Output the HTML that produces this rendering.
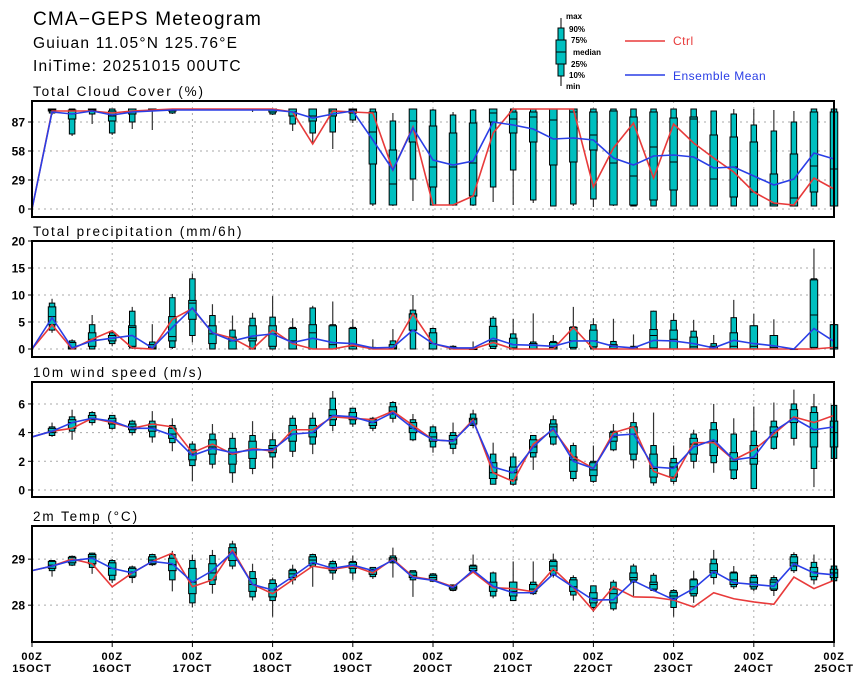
<!DOCTYPE html>
<html><head><meta charset="utf-8">
<style>
body{margin:0;background:#fff;}
svg{display:block;font-family:"Liberation Sans",sans-serif;}
</style></head>
<body>
<svg id="chart" width="860" height="680" xmlns="http://www.w3.org/2000/svg">
<rect width="860" height="680" fill="#fff"/>
<text x="33" y="25" font-size="19" letter-spacing="1.2">CMA−GEPS Meteogram</text>
<text x="33" y="48" font-size="15.5" letter-spacing="1.2">Guiuan 11.05°N 125.76°E</text>
<text x="33" y="71" font-size="15.5" letter-spacing="1.2">IniTime: 20251015 00UTC</text>
<g>
<line x1="561" y1="18" x2="561" y2="86" stroke="#000"/>
<rect x="558" y="28" width="6" height="48" fill="#00c0c0" stroke="#000"/>
<rect x="556" y="40" width="10" height="24" fill="#00c0c0" stroke="#000"/>
<line x1="556" y1="52" x2="566" y2="52" stroke="#000"/>
<text x="566" y="19" font-size="8" font-weight="bold">max</text>
<text x="569" y="32" font-size="8" font-weight="bold">90%</text>
<text x="571" y="43" font-size="8" font-weight="bold">75%</text>
<text x="573" y="55" font-size="8" font-weight="bold">median</text>
<text x="571" y="67" font-size="8" font-weight="bold">25%</text>
<text x="569" y="78" font-size="8" font-weight="bold">10%</text>
<text x="566" y="89" font-size="8" font-weight="bold">min</text>
</g>
<g><line x1="625" y1="41" x2="665" y2="41" stroke="#e83a3a" stroke-width="1.5"/><text x="673" y="45" font-size="12" fill="#e83a3a" letter-spacing="0.5">Ctrl</text></g>
<g><line x1="625" y1="75" x2="665" y2="75" stroke="#2a3ee6" stroke-width="1.5"/><text x="673" y="80" font-size="12" fill="#2a3ee6" letter-spacing="0.5">Ensemble Mean</text></g>
<g id="plots"></g>
</svg>
<script>
// ---- data ----
const cloudCtrl=[0,98,98,98,96,98,99,100,100,100,100,100,100,97,65,98,97,96,39,82,4,4,13,76,100,100,100,100,22,61,86,31,85,66,51,37,17,6,4,31,20];
const cloudMean=[0,97,95,98,94,97,98,99,99,99,99,99,99,97,91,95,98,69,39,81,49,44,48,87,84,80,70,71,69,51,44,53,54,52,41,42,33,24,30,56,50];
const cloudBox=[[94,96,98,99,100,100,100],[73,75,90,95,99,100,100],[85,95,98,99,100,100,100],[74,76,88,93,98,100,100],[80,87,95,98,100,100,100],[79,98,99,100,100,100,100],[95,96,98,99,100,100,100],[99,100,100,100,100,100,100],[99,100,100,100,100,100,100],[99,100,100,100,100,100,100],[97,99,100,100,100,100,100],[94,95,97,99,100,100,100],[78,85,93,97,100,100,100],[65,76,88,93,100,100,100],[60,77,93,98,100,100,100],[86,89,96,99,100,100,100],[3,5,45,77,97,100,100],[3,4,4,25,59,88,96],[8,30,67,88,100,100,100],[3,4,22,42,83,99,100],[3,4,4,42,76,94,97],[3,4,13,46,86,99,100],[7,22,87,96,100,100,100],[4,39,76,90,97,100,100],[6,9,67,92,97,100,100],[3,3,44,89,100,100,100],[3,5,47,97,100,100,100],[2,10,59,74,97,100,100],[3,4,4,46,98,100,100],[3,3,4,33,92,100,100],[3,3,9,62,97,100,100],[3,3,19,47,91,100,100],[3,3,3,90,92,100,100],[3,3,3,30,74,98,98],[3,3,12,42,72,95,100],[3,3,3,17,67,84,100],[3,3,3,5,35,78,99],[3,3,3,11,55,87,98],[3,3,17,43,97,100,100],[3,3,3,40,97,100,100]];
const precCtrl=[0,4.5,0,1.8,3.4,0.2,0,5.5,7.5,3,2,0,3.5,1,0,0,0.7,0,0,6.5,1,0,0,1.2,0,0,0,4,0,0,0,0,0,0,0,0,0,0,0,0,0.3];
const precMean=[0,5.8,0.2,1.5,2,2.5,0.2,4,7.6,3,1.5,2.4,2.8,1.2,2,1.2,1,0.2,0.3,3.5,1,0.2,0.2,2,0.8,0.7,0.5,1.5,1.5,0.5,0.2,1.6,1.5,1,0.2,1.6,1,0.6,0,3.8,1.4];
const precBox=[[3,3.5,4.5,6,7.8,8.5,9.3],[0,0,0,0.2,1.2,1.5,1.8],[0,0,0.5,1.8,3,4.5,6.3],[0.5,1,1.5,2,2.5,3,3.2],[0,0.2,0.5,4,4.3,7,7.8],[0,0,0,0.2,0.8,1.3,4.6],[0,0.3,1.5,2.3,6,9.5,10.2],[1.2,2.5,5.5,8.5,9,13,14],[0,0,1,2.8,4.3,6.2,8.3],[0,0,0,1.5,2.2,3.5,6.2],[0,0,1.5,2,4.3,5.7,6.7],[0,0,0.5,2.8,4.3,5.9,9.8],[0,0,0,1.5,3.8,4,5.7],[0,0,0,3,4.5,7.6,8],[0,0,0,0.8,4.3,4.5,8.8],[0,0,0,0.5,3.8,4,5.5],[0,0,0,0,0.2,0.3,1.8],[0,0,0,0.2,0.8,1.5,3.7],[0,0,3.5,6.5,6.5,7.2,10],[0,0,0,1,3,3.8,4],[0,0,0,0,0.3,0.5,0.7],[0,0,0,0,0,0,1.4],[0,0.1,0.5,1.5,4.2,5.7,6.1],[0,0,0,0.2,2,2.8,5.6],[0,0,0,0,1,1.3,6.6],[0,0,0,0.3,1.2,1.4,2.6],[0,0,0.3,1.5,4,4.1,7.8],[0,0,0.4,1.5,3.5,4.5,5.7],[0,0,0.1,0.5,0.8,1.4,5.6],[0,0,0,0,0.3,0.5,2.7],[0,0,0.2,2.5,3.6,7,7.1],[0,0,0,1.8,3.5,5.3,6.6],[0,0,0,0.4,2.2,3.3,5.4],[0,0,0,0,0.5,1,2.6],[0,0,0,0.5,3,5.8,9.1],[0,0,0,0.5,4.3,4.3,6.5],[0,0,0,0.3,2.5,2.5,5.5],[0,0,0,0,0,0,0.1],[0,0,0.3,6.3,12.8,13,18.6],[0,0,0,0.3,4.5,4.5,4.6]];
const windCtrl=[3.7,4.1,4.3,5.0,4.7,4.3,4.6,4.4,2.6,3.2,2.5,2.9,2.7,4.2,4.2,5.1,5.0,4.9,5.5,4.5,3.5,3.4,4.9,1.2,0.6,3.2,4.2,2.3,1.5,4.0,4.4,1.3,0.8,3.3,3.3,2.1,2.8,3.9,5.1,4.7,5.2];
const windMean=[3.7,4.1,4.7,5.0,4.8,4.3,4.3,3.8,2.4,2.9,2.6,2.8,2.8,3.9,4.0,5.2,5.1,4.7,5.4,4.3,3.5,3.4,4.8,1.6,1.2,3.0,4.3,2.0,1.5,3.8,3.9,1.6,1.5,3.0,3.5,2.1,2.3,4.1,5.0,4.2,4.4];
const windBox=[[3.7,3.8,4,4.1,4.3,4.4,4.7],[3.5,4.1,4.3,4.7,4.9,5.1,5.6],[4.5,4.7,4.9,5.0,5.2,5.4,5.5],[4.2,4.3,4.6,4.8,5.0,5.2,5.2],[3.8,4.0,4.2,4.4,4.6,4.8,4.9],[3.3,3.7,4.1,4.4,4.6,4.8,5.5],[2.7,3.3,3.6,3.9,4.3,4.5,5.0],[0.6,1.7,2.1,2.5,2.8,3.2,3.4],[1.5,1.8,2.5,3.0,3.5,3.9,4.6],[0.5,1.2,1.8,2.5,2.9,3.6,4.0],[1.1,1.5,2.2,2.8,3.4,3.8,4.8],[1.5,2.3,2.6,2.9,3.1,3.5,4.0],[2.3,2.7,3.4,3.9,4.5,5.0,5.2],[2.5,3.2,3.7,4.0,4.5,5.0,5.4],[4.1,4.5,4.9,5.2,5.6,6.4,6.9],[4.4,4.6,4.9,5.1,5.4,5.7,5.7],[4.1,4.3,4.5,4.7,4.9,5.0,5.1],[4.7,5.0,5.3,5.5,5.8,6.1,6.2],[3.4,3.5,4.0,4.3,4.7,4.9,5.3],[2.6,3.0,3.4,3.7,4.0,4.4,4.5],[2.5,2.9,3.2,3.5,3.8,4.0,4.7],[4.3,4.5,4.6,4.9,5.0,5.3,5.6],[0.4,0.4,0.8,1.2,1.9,2.5,3.3],[0.3,0.4,0.7,1.2,1.6,2.3,2.6],[1.4,2.3,2.6,3.0,3.5,3.8,3.8],[3.1,3.2,3.7,4.4,4.6,4.9,5.2],[0.6,0.8,1.3,2.1,2.3,3.1,3.3],[0.5,0.6,1.0,1.4,1.9,2.0,3.1],[2.7,2.8,3.4,3.7,4.0,4.1,4.6],[1.5,2.1,2.5,3.9,4.4,4.7,5.4],[0.3,0.5,0.9,1.5,2.5,3.1,5.4],[0.4,0.6,0.9,1.6,1.9,2.2,3.1],[1.5,2.0,2.5,3.2,3.6,3.9,4.2],[1.2,1.9,2.4,3.4,4.2,4.7,6.0],[0.7,0.8,1.4,2.0,2.6,3.9,5.0],[0.1,0.1,1.8,2.2,3.1,4.1,5.8],[2.8,2.9,3.7,4.0,4.4,4.8,6.1],[3.1,3.6,4.7,5.0,5.6,6.0,7.0],[0.2,1.5,3.0,4.0,5.4,5.8,6.7],[2.2,2.2,3.0,4.0,4.8,5.9,5.9]];
const tempCtrl=[28.75,28.85,29.0,28.9,28.4,28.7,28.95,29.13,28.4,28.55,29.2,28.45,28.25,28.55,28.85,28.78,28.85,28.7,29.0,28.62,28.55,28.4,28.72,28.38,28.36,28.29,28.79,28.38,27.88,28.4,28.18,28.17,28.11,27.96,28.27,28.14,28.07,28.02,28.61,28.36,28.54];
const tempMean=[28.75,28.85,28.97,29.02,28.8,28.7,28.95,28.9,28.5,28.75,29.15,28.45,28.33,28.62,28.93,28.8,28.87,28.75,28.98,28.6,28.54,28.38,28.76,28.41,28.27,28.27,28.68,28.39,28.11,28.12,28.53,28.32,28.12,28.36,28.73,28.49,28.45,28.41,28.9,28.7,28.66];
const tempBox=[[28.62,28.75,28.8,28.87,28.95,28.97,28.98],[28.85,28.87,28.92,28.98,29.04,29.06,29.08],[28.68,28.82,28.9,29.05,29.1,29.13,29.14],[28.48,28.55,28.65,28.8,28.92,28.97,29.0],[28.48,28.6,28.63,28.72,28.8,28.83,28.86],[28.85,28.88,28.9,28.98,29.05,29.1,29.12],[28.3,28.55,28.75,28.88,29.02,29.1,29.18],[27.95,28.05,28.25,28.5,28.8,28.97,29.1],[28.25,28.45,28.55,28.7,28.9,29.08,29.2],[28.78,28.85,28.97,29.15,29.25,29.33,29.4],[28.1,28.18,28.3,28.45,28.58,28.73,28.9],[27.75,28.1,28.18,28.33,28.47,28.55,28.6],[28.45,28.55,28.6,28.68,28.75,28.78,28.88],[28.4,28.85,28.9,28.98,29.05,29.1,29.12],[28.55,28.7,28.75,28.82,28.9,28.95,28.98],[28.55,28.7,28.8,28.87,28.93,28.95,29.08],[28.57,28.62,28.67,28.75,28.78,28.82,28.82],[28.6,28.92,28.95,29.0,29.03,29.07,29.25],[28.18,28.55,28.6,28.65,28.72,28.75,28.75],[28.5,28.52,28.55,28.6,28.65,28.68,28.7],[28.3,28.32,28.35,28.38,28.42,28.44,28.45],[28.7,28.72,28.75,28.8,28.85,28.87,29.1],[28.15,28.2,28.3,28.4,28.5,28.7,28.73],[28.1,28.1,28.2,28.3,28.5,28.5,28.95],[28.22,28.25,28.3,28.35,28.45,28.5,28.95],[28.6,28.65,28.75,28.85,28.95,28.98,29.12],[28.1,28.22,28.3,28.4,28.55,28.6,28.65],[27.85,27.95,28.05,28.15,28.27,28.42,28.43],[27.88,27.92,28.05,28.25,28.35,28.5,28.55],[28.2,28.5,28.55,28.6,28.7,28.85,28.9],[28.3,28.32,28.35,28.45,28.5,28.65,28.7],[27.75,27.95,28.15,28.2,28.28,28.32,28.35],[28.05,28.2,28.25,28.4,28.55,28.57,28.75],[28.45,28.6,28.7,28.75,28.9,29.0,29.2],[28.35,28.4,28.45,28.55,28.7,28.72,28.85],[28.3,28.35,28.4,28.5,28.6,28.65,28.65],[28.2,28.32,28.35,28.5,28.55,28.6,28.65],[28.7,28.75,28.85,28.92,29.05,29.1,29.15],[28.45,28.55,28.62,28.72,28.82,28.93,29.1],[28.5,28.53,28.6,28.7,28.78,28.85,28.88]];
const cloudTicks=[0,29,58,87];
const precTicks=[0,5,10,15,20];
const windTicks=[0,2,4,6];
const tempTicks=[28,29];
const dayLabels=["15OCT","16OCT","17OCT","18OCT","19OCT","20OCT","21OCT","22OCT","23OCT","24OCT","25OCT"];

// ---- drawing ----
const NS="http://www.w3.org/2000/svg";
const plots=document.getElementById('plots');
const X0=32,X1=834,NSTEP=40;
function xs(i){return X0+(X1-X0)*i/NSTEP;}
function mk(tag,attrs,parent){const e=document.createElementNS(NS,tag);for(const k in attrs)e.setAttribute(k,attrs[k]);parent.appendChild(e);return e;}

function panel(name,title,top,bot,vmin,vmax,ticks,box,ctrl,mean){
  const g=mk('g',{},plots);
  
  
  const ys=v=>bot-(v-vmin)/(vmax-vmin)*(bot-top);
  const t=mk('text',{x:33,y:top-5,'font-size':13.5,'letter-spacing':1.9},g);t.textContent=title;
  
  
  for(let d=1;d<10;d++){const l=mk('line',{x1:xs(d*4),x2:xs(d*4),y1:top,y2:bot,stroke:'#aaa','stroke-dasharray':'2,4'},g);
    
    }
  ticks.forEach(v=>{const y=ys(v);
    const l=mk('line',{x1:X0,x2:X1,y1:y,y2:y,stroke:'#aaa','stroke-dasharray':'2,4'},g);
    
    
    mk('line',{x1:X0-4,x2:X0,y1:y,y2:y,stroke:'#000'},g);
    const tx=mk('text',{x:X0-7,y:y+4.5,'font-size':12,'font-weight':'bold','text-anchor':'end'},g);tx.textContent=v;
    
    });
  box.forEach((b,i)=>{const x=xs(i+1);
    const bg=mk('g',{},g);
    
    
    mk('line',{x1:x,x2:x,y1:ys(b[0]),y2:ys(b[6]),stroke:'#333','stroke-width':1.2},bg);
    mk('rect',{x:x-2.75,y:ys(b[5]),width:5.5,height:Math.max(0.5,ys(b[1])-ys(b[5])),fill:'#00bfbf',stroke:'#000','stroke-width':1},bg);
    mk('rect',{x:x-3.75,y:ys(b[4]),width:7.5,height:Math.max(0.5,ys(b[2])-ys(b[4])),fill:'#00bfbf',stroke:'#000','stroke-width':1},bg);
    mk('line',{x1:x-3.75,x2:x+3.75,y1:ys(b[3]),y2:ys(b[3]),stroke:'#000','stroke-width':1},bg);});
  const pc=mk('polyline',{points:ctrl.map((v,i)=>xs(i)+','+ys(v)).join(' '),fill:'none',stroke:'#e83a3a','stroke-width':1.6},g);
  
  
  const pm=mk('polyline',{points:mean.map((v,i)=>xs(i)+','+ys(v)).join(' '),fill:'none',stroke:'#2a3ee6','stroke-width':1.6},g);
  
  
  const fr=mk('rect',{x:X0,y:top,width:X1-X0,height:bot-top,fill:'none',stroke:'#000','stroke-width':2},g);
  
  
}
panel('cloud','Total Cloud Cover (%)',101,217,-8,108,cloudTicks,cloudBox,cloudCtrl,cloudMean);
panel('precip','Total precipitation (mm/6h)',241,357,-1.48,20,precTicks,precBox,precCtrl,precMean);
panel('wind','10m wind speed (m/s)',382,497,-0.49,7.53,windTicks,windBox,windCtrl,windMean);
panel('temp','2m Temp (°C)',526,642,27.2,29.72,tempTicks,tempBox,tempCtrl,tempMean);

dayLabels.forEach((d,k)=>{const x=xs(k*4);
  mk('line',{x1:x,x2:x,y1:642,y2:647,stroke:'#000'},plots);
  const a=mk('text',{x:x,y:660,'font-size':11,'font-weight':'bold','text-anchor':'middle','letter-spacing':0.8},plots);a.textContent='00Z';
  
  
  const b=mk('text',{x:x,y:672,'font-size':11,'font-weight':'bold','text-anchor':'middle','letter-spacing':0.8},plots);b.textContent=d;
  
  });
</script>
</body></html>
